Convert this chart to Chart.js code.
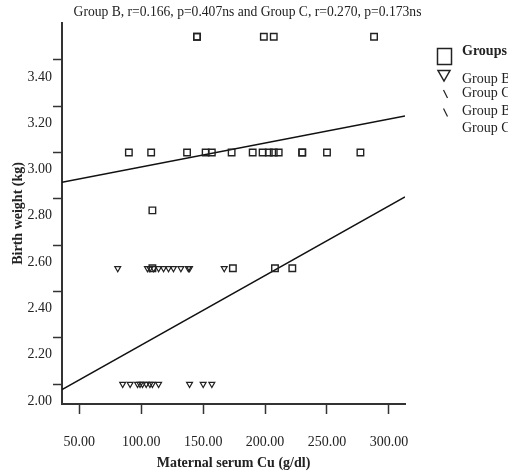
<!DOCTYPE html>
<html>
<head>
<meta charset="utf-8">
<script src="https://cdn.jsdelivr.net/npm/chart.js@4"></script>
<style>
  body { margin: 0; background: #fff; }
  canvas { display: block; }
</style>
</head>
<body>
<canvas id="scatter-chart" width="508" height="476"></canvas>
<script>
// Group B (squares): maternal serum Cu vs birth weight
var groupBCu = [145, 145, 199, 207, 288,
    90, 108, 137, 152, 157, 173, 190, 198, 203, 207, 211, 230, 230, 250, 277,
    109,
    109, 174, 208, 222];
var groupBWeight = [3.5, 3.5, 3.5, 3.5, 3.5,
    3.0, 3.0, 3.0, 3.0, 3.0, 3.0, 3.0, 3.0, 3.0, 3.0, 3.0, 3.0, 3.0, 3.0, 3.0,
    2.75,
    2.5, 2.5, 2.5, 2.5];

// Group C (triangles)
var groupCCu = [81, 105, 107, 110, 114, 118, 122, 126, 132, 138, 139, 167,
    85, 91, 97, 99, 101, 104, 107, 109, 114, 139, 150, 157];
var groupCWeight = [2.5, 2.5, 2.5, 2.5, 2.5, 2.5, 2.5, 2.5, 2.5, 2.5, 2.5, 2.5,
    2.0, 2.0, 2.0, 2.0, 2.0, 2.0, 2.0, 2.0, 2.0, 2.0, 2.0, 2.0];

// fit lines, ends at the axis limits
var fitCu = [36, 313];
var fitB = [2.871, 3.158];
var fitC = [1.976, 2.808];

var xTicks = [50, 100, 150, 200, 250, 300];
var yTicks = [2.0, 2.2, 2.4, 2.6, 2.8, 3.0, 3.2, 3.4];

var titleText = "Group B, r=0.166, p=0.407ns and Group C, r=0.270, p=0.173ns";

function toPoints(xs, ys) {
    return xs.map(function (x, i) { return {x: x, y: ys[i]}; });
}

var serif = "'Liberation Serif', 'Times New Roman', serif";
var ink = "#222";

// SPSS style legend, drawn on the right
var legendPlugin = {
    id: "groupsLegend",
    afterDraw: function (chart) {
        var c = chart.ctx;
        c.save();
        c.strokeStyle = ink;
        c.fillStyle = ink;
        c.lineWidth = 1.5;
        c.strokeRect(437.5, 48.5, 14, 16);
        c.beginPath();
        c.moveTo(438, 70.5);
        c.lineTo(450, 70.5);
        c.lineTo(444, 81);
        c.closePath();
        c.stroke();
        c.lineWidth = 1.2;
        c.beginPath();
        c.moveTo(443.5, 90);
        c.lineTo(447.5, 98);
        c.moveTo(443.5, 108.5);
        c.lineTo(447.5, 116.5);
        c.stroke();
        c.textBaseline = "middle";
        c.textAlign = "left";
        c.font = "bold 14px " + serif;
        c.fillText("Groups", 462, 51);
        c.font = "14px " + serif;
        c.fillText("Group B", 462, 79);
        c.fillText("Group C", 462, 93.5);
        c.fillText("Group B", 462, 111.5);
        c.fillText("Group C", 462, 128.5);
        c.restore();
    }
};

var ctx = document.getElementById("scatter-chart");
var scatterChart = new Chart(ctx, {
    type: 'scatter',
    data: {
        datasets: [{
            label: 'Group B',
            data: toPoints(groupBCu, groupBWeight),
            pointStyle: 'rect',
            pointRadius: 4.6,
            borderColor: ink,
            backgroundColor: 'rgba(0,0,0,0)',
            borderWidth: 1.4
        },
            {
                label: 'Group C',
                data: toPoints(groupCCu, groupCWeight),
                pointStyle: 'triangle',
                rotation: 180,
                pointRadius: 3.4,
                borderColor: ink,
                backgroundColor: 'rgba(0,0,0,0)',
                borderWidth: 1.2
            },
            {
                type: 'line',
                label: 'Fit B',
                data: toPoints(fitCu, fitB),
                borderColor: '#111',
                borderWidth: 1.5,
                pointRadius: 0
            },
            {
                type: 'line',
                label: 'Fit C',
                data: toPoints(fitCu, fitC),
                borderColor: '#111',
                borderWidth: 1.5,
                pointRadius: 0
            }
        ]
    },
    options: {
        responsive: false,
        animation: false,
        layout: {padding: {left: 0, right: 13, top: 0, bottom: 0}},
        plugins: {
            legend: {display: false},
            tooltip: {enabled: false},
            title: {
                display: true,
                text: titleText,
                color: ink,
                font: {family: serif, size: 13.6, weight: 'normal'},
                padding: {top: 4, bottom: 2.5}
            }
        },
        scales: {
            x: {
                type: 'linear',
                min: 36,
                max: 313,
                afterBuildTicks: function (scale) {
                    scale.ticks = xTicks.map(function (v) { return {value: v}; });
                },
                afterFit: function (scale) { scale.height = 72; },
                ticks: {
                    color: ink,
                    font: {family: serif, size: 14},
                    padding: 20,
                    maxRotation: 0,
                    callback: function (v) { return Number(v).toFixed(2); }
                },
                grid: {drawOnChartArea: false, tickLength: 10, tickColor: '#333', tickWidth: 1.5},
                border: {color: '#333', width: 2},
                title: {
                    display: true,
                    text: 'Maternal serum Cu (g/dl)',
                    color: ink,
                    font: {family: serif, size: 14, weight: 'bold'},
                    padding: {top: 4, bottom: 4.6}
                }
            },
            y: {
                type: 'linear',
                min: 1.914,
                max: 3.560,
                afterBuildTicks: function (scale) {
                    scale.ticks = yTicks.map(function (v) { return {value: v}; });
                },
                afterFit: function (scale) { scale.width = 62; },
                ticks: {
                    color: ink,
                    font: {family: serif, size: 14},
                    padding: 1,
                    labelOffset: 17,
                    callback: function (v) { return Number(v).toFixed(2); }
                },
                grid: {drawOnChartArea: false, tickLength: 9, tickColor: '#333', tickWidth: 1.5},
                border: {color: '#333', width: 2},
                title: {
                    display: true,
                    text: 'Birth weight (kg)',
                    color: ink,
                    font: {family: serif, size: 14, weight: 'bold'},
                    padding: {top: 10, bottom: 0}
                }
            },
            spare: {
                type: 'linear',
                position: 'right',
                display: true,
                afterFit: function (scale) { scale.width = 90; },
                ticks: {display: false},
                grid: {display: false},
                border: {display: false}
            }
        }
    },
    plugins: [legendPlugin]
});
</script>
</body>
</html>
